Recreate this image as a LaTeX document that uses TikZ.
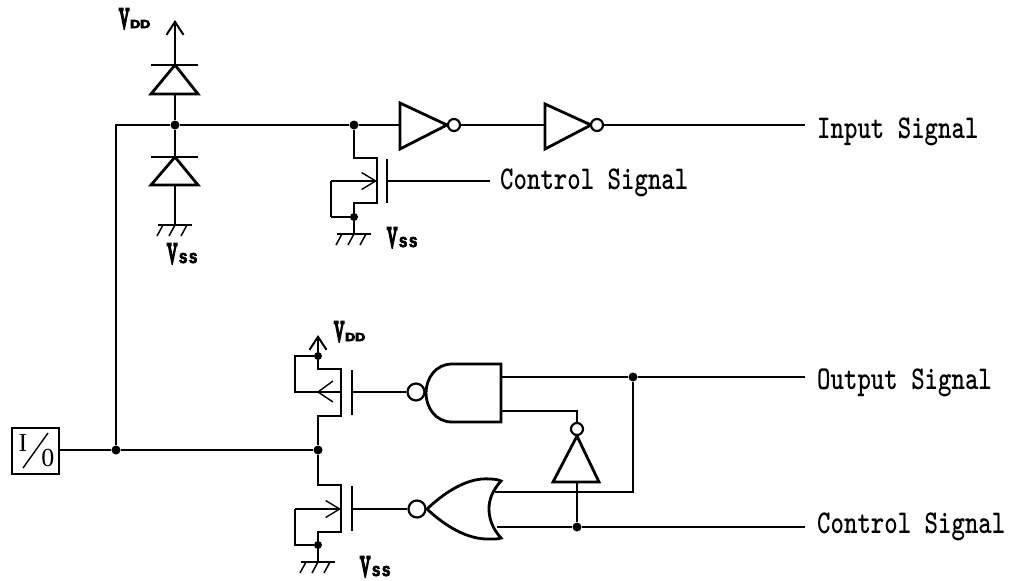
\documentclass[tikz,border=0pt]{standalone}
\usepackage{fontspec}
\setmainfont{Liberation Serif}
\setsansfont{Liberation Sans}
\newfontfamily\supVfont[FakeBold=10]{Liberation Serif}
\newfontfamily\supSfont[FakeBold=6]{Liberation Sans Bold}
\usetikzlibrary{arrows.meta}
\newcommand{\sigtext}[1]{\scalebox{1}[1.3]{\fontsize{25.6}{25.6}\selectfont\ttfamily\bfseries #1}}
\newcommand{\supplyV}{\resizebox{10pt}{19pt}{\supVfont V}}
\newcommand{\supplyDD}{\supplyV\hspace{1pt}\resizebox{20pt}{8pt}{\supSfont DD}}
\newcommand{\supplySS}{\supplyV\hspace{2pt}\resizebox{18pt}{10pt}{\supSfont S\,S}}
\tikzset{
  wire/.style={line width=2pt},
  thin wire/.style={line width=1.6pt},
  gate/.style={line width=2.8pt,line join=miter},
  dot/.style={circle,fill=black,inner sep=0pt,minimum size=9pt},
  bubble/.style={circle,draw,line width=2.2pt,fill=white,inner sep=0pt},
  sig/.style={anchor=base west,inner sep=0pt},
  sup/.style={inner sep=0pt,anchor=base west},
  barb/.style={-{Straight Barb[length=13pt,width=17pt,line width=2pt]}},
  barbs/.style={-{Straight Barb[length=14pt,width=17pt,line width=1.4pt]}},
  gnd/.pic={
    \draw[wire] (-17,0) -- (17,0);
    \draw[line width=1.5pt] (-12,0) -- (-18,11) (0,0) -- (-6,11) (12,0) -- (6,11);
  }
}
\begin{document}
\begin{tikzpicture}[x=1pt,y=-1pt]
\useasboundingbox (0,0) rectangle (1018,581);
% --- nodes
\node[draw,line width=2.2pt,inner sep=0pt,minimum width=47pt,minimum height=46pt] (io) at (35.5,451) {};
\node[inner sep=0pt] (ioI) at (23,443) {\fontsize{26}{26}\selectfont I};
\node[inner sep=0pt] (ioO) at (48,458) {\fontsize{26}{26}\selectfont 0};
\coordinate (ioa) at (23,468);
\coordinate (iob) at (48,433);
\draw[line width=1.4pt] (ioa) -- (iob);

\node[dot] (j1) at (116,450) {};
\node[dot] (j2) at (318,450) {};
\node[dot] (j3) at (175,125) {};
\node[dot] (j4) at (354,125) {};
\node[dot,minimum size=8pt] (j5) at (354,217) {};
\node[dot,minimum size=8pt] (j6) at (318,356) {};
\node[dot,minimum size=8pt] (j7) at (318,545) {};
\node[dot] (j8) at (633,377) {};
\node[dot] (j9) at (577,527) {};

\coordinate (corner) at (116,125);

% upper diodes
\coordinate (vddtop) at (175,20);
\coordinate (d1k) at (175,65);
\coordinate (d1a) at (175,94);
\coordinate (d2k) at (175,157);
\coordinate (d2a) at (175,185);
\coordinate (g1) at (175,225);
\draw[barb,wire] (d1k) -- (vddtop);
\draw[gate] (151,65) -- (198,65);
\draw[gate] (d1k) -- (151,94) -- (198,94) -- cycle;
\draw[wire] (d1a) -- (j3);
\draw[wire] (j3) -- (d2k);
\draw[gate] (151,157) -- (198,157);
\draw[gate] (d2k) -- (151,185) -- (198,185) -- cycle;
\draw[wire] (d2a) -- (g1);
\pic at (g1) {gnd};

% upper NMOS
\coordinate (n1d) at (354,158);
\coordinate (n1dr) at (377,158);
\coordinate (n1sr) at (377,203);
\coordinate (n1s) at (354,203);
\coordinate (n1b) at (377,181);
\coordinate (n1bl) at (331,181);
\coordinate (n1bb) at (331,217);
\coordinate (n1gt) at (387,159);
\coordinate (n1gb) at (387,203);
\coordinate (n1g) at (387,181);
\coordinate (n1ge) at (490,181);
\coordinate (g2) at (354,234);
\draw[thin wire] (j4) -- (n1d) -- (n1dr) -- (n1sr) -- (n1s) -- (j5);
\draw[thin wire] (n1bb) -- (j5);
\draw[thin wire] (n1bl) -- (n1bb);
\draw[barbs,thin wire] (n1bl) -- (n1b);
\draw[wire] (n1gt) -- (n1gb);
\draw[thin wire] (n1g) -- (n1ge);
\draw[wire] (j5) -- (g2);
\pic at (g2) {gnd};

% inverters on top
\coordinate (i1in) at (400,125);
\coordinate (i2in) at (545,125);
\draw[gate] (400,103) -- (447,125) -- (400,149) -- cycle;
\node[bubble,minimum size=12pt] (b1) at (454,125) {};
\draw[gate] (545,104) -- (591,125) -- (545,149) -- cycle;
\node[bubble,minimum size=12pt] (b2) at (597,125) {};
\coordinate (insig) at (805,125);
\draw[wire] (b1) -- (i2in);
\draw[wire] (b2) -- (insig);
\draw[wire] (j1) -- (corner) -- (j3);
\draw[wire] (j3) -- (j4) -- (i1in);

% bottom rail
\draw[wire] (j1 -| io.east) -- (j1) -- (j2);

% PMOS
\coordinate (vdd2) at (318,335);
\coordinate (p1d) at (318,369);
\coordinate (p1dr) at (341,369);
\coordinate (p1sr) at (341,416);
\coordinate (p1s) at (318,416);
\coordinate (p1b) at (341,392);
\coordinate (p1bl) at (295,392);
\coordinate (p1bt) at (295,356);
\coordinate (p1a) at (318,392);
\coordinate (p1gt) at (352,370);
\coordinate (p1gb) at (352,415);
\coordinate (p1g) at (352,392);
\draw[barb,wire] (j6) -- (vdd2);
\draw[wire] (j6) -- (p1d) -- (p1dr) -- (p1sr) -- (p1s) -- (j2);
\draw[wire] (j6) -- (p1bt) -- (p1bl) -- (p1b);
\draw[line width=1.4pt] (333,381) -- (318,392) -- (333,402);
\draw[wire] (p1gt) -- (p1gb);

% lower NMOS
\coordinate (n2d) at (318,485);
\coordinate (n2dr) at (341,485);
\coordinate (n2sr) at (341,532);
\coordinate (n2s) at (318,532);
\coordinate (n2b) at (341,509);
\coordinate (n2bl) at (295,509);
\coordinate (n2bb) at (295,545);
\coordinate (n2gt) at (352,486);
\coordinate (n2gb) at (352,531);
\coordinate (n2g) at (352,509);
\coordinate (g3) at (318,562);
\draw[wire] (j2) -- (n2d) -- (n2dr) -- (n2sr) -- (n2s) -- (j7);
\draw[wire] (j7) -- (n2bb) -- (n2bl);
\draw[barbs,thin wire] (n2bl) -- (n2b);
\draw[wire] (n2gt) -- (n2gb);
\draw[wire] (j7) -- (g3);
\pic at (g3) {gnd};

% NAND
\draw[gate] (501,364) -- (452,364) .. controls (436,364) and (426,378) .. (426,393)
  .. controls (426,408) and (436,422) .. (452,422) -- (501,422) -- cycle;
\node[bubble,minimum size=17pt] (b3) at (416,392) {};
\draw[thin wire] (p1g) -- (b3);
\coordinate (nandout) at (501,377);
\coordinate (nandfb) at (501,411);
\coordinate (fbc) at (577,411);
\coordinate (outsig) at (805,377);
\draw[wire] (nandout) -- (j8) -- (outsig);

% NOR
\draw[gate] (427,509) .. controls (445,492) and (468,477) .. (490,479) .. controls (495,479) and (499,480) .. (501,481)
  .. controls (492,491) and (489,500) .. (489,509)
  .. controls (489,518) and (492,528) .. (501,538)
  .. controls (499,539) and (495,539) .. (490,539)
  .. controls (468,540) and (445,526) .. (427,509) -- cycle;
\node[bubble,minimum size=17pt] (b4) at (417,509) {};
\draw[thin wire] (n2g) -- (b4);
\coordinate (norout1) at (495,492);
\coordinate (norout1c) at (633,492);
\coordinate (norout2) at (497,527);
\coordinate (ctlsig) at (805,527);
\draw[wire] (norout1) -- (norout1c) -- (j8);
\draw[wire] (norout2) -- (j9) -- (ctlsig);

% feedback inverter
\draw[gate] (577,436) -- (553,482) -- (599,482) -- cycle;
\node[bubble,minimum size=12pt] (b5) at (577,429) {};
\coordinate (i3in) at (577,482);
\draw[wire] (nandfb) -- (fbc) -- (b5);
\draw[wire] (i3in) -- (j9);

% labels
\node[sig] (lin) at (817,138) {\sigtext{Input Signal}};
\node[sig] (lc1) at (500,189) {\sigtext{Control Signal}};
\node[sig] (lout) at (817,389) {\sigtext{Output Signal}};
\node[sig] (lc2) at (817,533) {\sigtext{Control Signal}};
\node[sup] (v1) at (119,28) {\supplyDD};
\node[sup] (v2) at (167,263) {\supplySS};
\node[sup] (v3) at (387,247) {\supplySS};
\node[sup] (v4) at (334,341) {\supplyDD};
\node[sup] (v5) at (360,576) {\supplySS};
\end{tikzpicture}
\end{document}
